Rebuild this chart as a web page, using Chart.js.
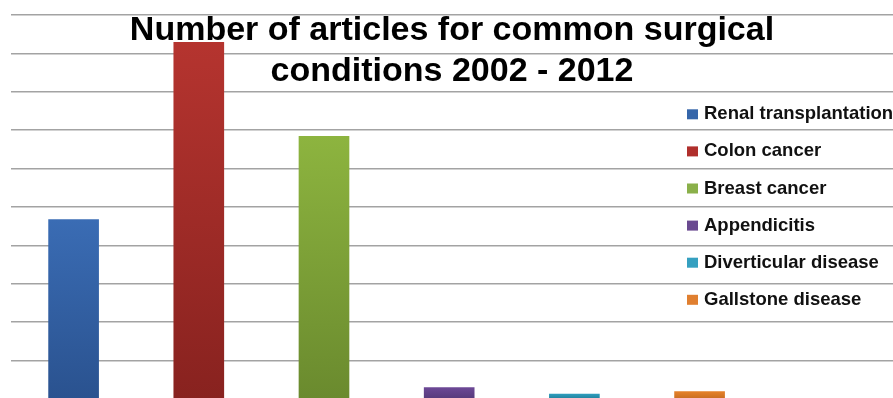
<!DOCTYPE html>
<html>
<head>
<meta charset="utf-8">
<script src="https://cdn.jsdelivr.net/npm/chart.js@4"></script>
<style>
  html, body { margin: 0; padding: 0; background: #fff; overflow: hidden; }
  #wrap { width: 893px; height: 398px; overflow: hidden; position: relative; }
  #chart { display: block; }
</style>
</head>
<body>
<div id="wrap"><canvas id="chart" width="893" height="400"></canvas></div>
<script>
// Chart data
const categories = ['Renal transplantation', 'Colon cancer', 'Breast cancer', 'Appendicitis', 'Diverticular disease', 'Gallstone disease'];
const articleCounts = [4670, 9290, 6840, 300, 130, 190];
const titleLines = ['Number of articles for common surgical', 'conditions 2002 - 2012'];

// bar colours (top of bar, bottom of bar) and legend swatches
const topColors = ['#3a6cb4', '#b5342f', '#8db43f', '#6c4896', '#2e9dbd', '#e58129'];
const bottomColors = ['#2a528f', '#88221f', '#6a8a2e', '#563a7a', '#23809b', '#c86d20'];
const swatchColors = ['#3566aa', '#b02f2c', '#8ab04a', '#6a4a90', '#35a0c0', '#e07f30'];

const FONT = "'Liberation Sans', Arial, Helvetica, sans-serif";

function barGradient(i) {
    return function(ctx) {
        const chart = ctx.chart;
        const area = chart.chartArea;
        const y = chart.scales.y;
        if (!area || !y) return topColors[i];
        const top = y.getPixelForValue(articleCounts[i]);
        const g = chart.ctx.createLinearGradient(0, top, 0, area.bottom);
        g.addColorStop(0, topColors[i]);
        g.addColorStop(1, bottomColors[i]);
        return g;
    };
}

// title and legend sit on top of the plot area, like the original
const overlayPlugin = {
    id: 'overlay',
    afterDraw(chart) {
        const c = chart.ctx;
        c.save();
        c.fillStyle = '#000';
        c.textAlign = 'center';
        c.textBaseline = 'alphabetic';
        c.font = 'bold 34px ' + FONT;
        c.fillText(titleLines[0], 452, 39.5);
        c.fillText(titleLines[1], 452, 81);

        c.textAlign = 'left';
        c.font = 'bold 18.5px ' + FONT;
        chart.data.datasets.forEach(function(ds, i) {
            const base = 119.3 + i * 37.1;
            c.fillStyle = swatchColors[i];
            c.fillRect(687, base - 10, 11, 10);
            c.fillStyle = '#111';
            c.fillText(ds.label, 704, base);
        });
        c.restore();
    }
};

const datasets = categories.map(function(name, i) {
    return {
        label: name,
        data: [{ x: i, y: articleCounts[i] }],
        backgroundColor: barGradient(i),
        borderWidth: 0,
        barThickness: 50,
        grouped: false
    };
});

new Chart(document.getElementById('chart'), {
    type: 'bar',
    data: { datasets: datasets },
    options: {
        responsive: false,
        animation: false,
        layout: { padding: { left: 11, right: 0, top: 15, bottom: 1 } },
        plugins: {
            legend: { display: false },
            title: { display: false },
            tooltip: { enabled: false }
        },
        scales: {
            x: {
                type: 'linear',
                offset: false,
                min: -0.5,
                max: 6.545,
                display: false
            },
            y: {
                min: 0,
                max: 10000,
                border: { display: false },
                ticks: { display: false, stepSize: 1000 },
                grid: { color: '#a3a3a3', lineWidth: 1.5, drawTicks: false }
            }
        }
    },
    plugins: [overlayPlugin]
});
</script>
</body>
</html>
